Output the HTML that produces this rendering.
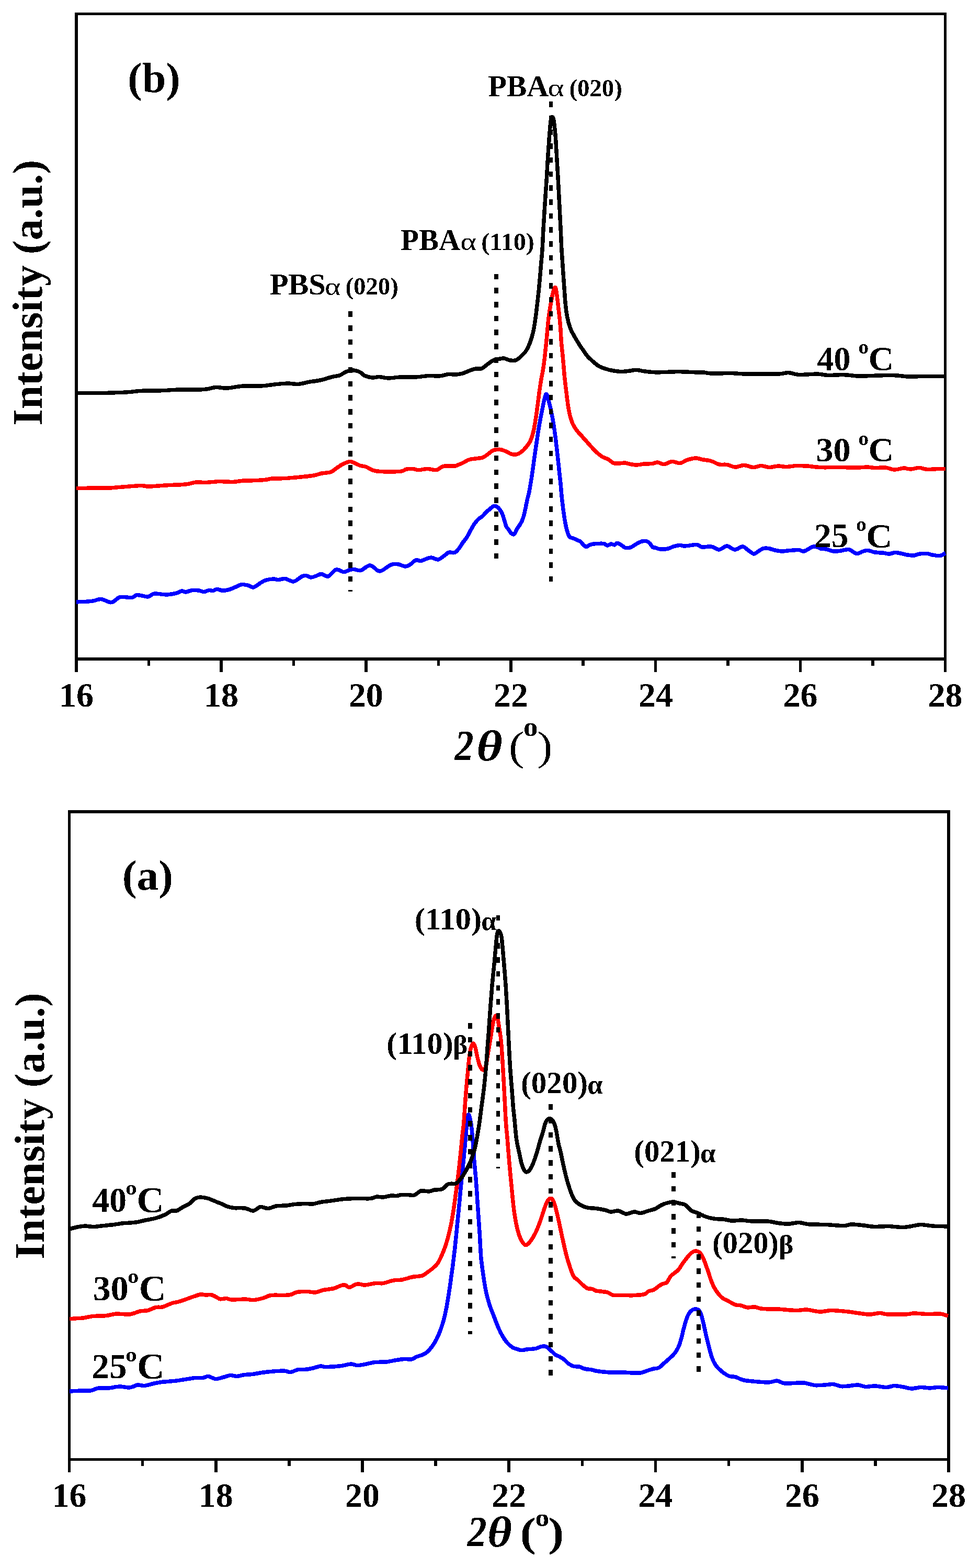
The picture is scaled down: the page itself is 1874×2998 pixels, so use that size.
<!DOCTYPE html>
<html lang="en"><head><meta charset="utf-8"><title>XRD patterns</title>
<style>html,body{margin:0;padding:0;background:#fff}body{width:1874px;height:2998px;overflow:hidden}svg{display:block}text{font-family:'Liberation Serif', 'DejaVu Serif', serif;font-weight:bold;fill:#000}.r{font-weight:normal}.i{font-style:italic}</style></head><body>
<svg width="1874" height="2998" viewBox="0 0 1874 2998">
<defs><filter id="bin" filterUnits="userSpaceOnUse" x="0" y="0" width="1874" height="2998" color-interpolation-filters="sRGB"><feComponentTransfer><feFuncR type="discrete" tableValues="0 1"/><feFuncG type="discrete" tableValues="0 1"/><feFuncB type="discrete" tableValues="0 1"/></feComponentTransfer></filter></defs>
<g filter="url(#bin)">
<rect width="1874" height="2998" fill="#fff"/>
<g id="plot-b">
<g stroke="#000" stroke-linecap="butt">
<line x1="146" y1="24.0" x2="146" y2="1285" stroke-width="6"/>
<line x1="1807.5" y1="24.0" x2="1807.5" y2="1285" stroke-width="5"/>
<line x1="143.0" y1="26.5" x2="1810.0" y2="26.5" stroke-width="5"/>
<line x1="143.0" y1="1260" x2="1810.0" y2="1260" stroke-width="6"/>
<line x1="284.5" y1="1260" x2="284.5" y2="1273" stroke-width="5.5"/>
<line x1="422.9" y1="1260" x2="422.9" y2="1285" stroke-width="5.5"/>
<line x1="561.4" y1="1260" x2="561.4" y2="1273" stroke-width="5.5"/>
<line x1="699.8" y1="1260" x2="699.8" y2="1285" stroke-width="5.5"/>
<line x1="838.3" y1="1260" x2="838.3" y2="1273" stroke-width="5.5"/>
<line x1="976.8" y1="1260" x2="976.8" y2="1285" stroke-width="5.5"/>
<line x1="1115.2" y1="1260" x2="1115.2" y2="1273" stroke-width="5.5"/>
<line x1="1253.7" y1="1260" x2="1253.7" y2="1285" stroke-width="5.5"/>
<line x1="1392.1" y1="1260" x2="1392.1" y2="1273" stroke-width="5.5"/>
<line x1="1530.6" y1="1260" x2="1530.6" y2="1285" stroke-width="5.5"/>
<line x1="1669.0" y1="1260" x2="1669.0" y2="1273" stroke-width="5.5"/>
</g>
<g font-size="66" text-anchor="middle">
<text x="146.0" y="1351.3">16</text>
<text x="422.9" y="1351.3">18</text>
<text x="699.8" y="1351.3">20</text>
<text x="976.8" y="1351.3">22</text>
<text x="1253.7" y="1351.3">24</text>
<text x="1530.6" y="1351.3">26</text>
<text x="1807.5" y="1351.3">28</text>
</g>
<path d="M146.0 751.5C153.3 751.5 174.3 751.8 190.0 751.5C205.7 751.2 225.8 750.8 240.0 750.0C254.2 749.2 264.2 747.5 275.0 747.0C285.8 746.5 294.2 747.3 305.0 747.0C315.8 746.7 325.8 745.4 340.0 745.0C354.2 744.6 377.9 745.2 390.0 744.5C402.1 743.8 405.0 740.9 412.5 740.5C420.0 740.1 426.2 742.4 435.0 742.0C443.8 741.6 454.2 738.7 465.0 738.0C475.8 737.3 490.0 738.5 500.0 738.0C510.0 737.5 516.7 735.8 525.0 735.0C533.3 734.2 542.5 733.1 550.0 733.0C557.5 732.9 563.3 734.9 570.0 734.5C576.7 734.1 582.5 731.8 590.0 730.5C597.5 729.2 607.5 728.2 615.0 726.5C622.5 724.8 629.2 722.0 635.0 720.5C640.8 719.0 645.8 719.0 650.0 717.5C654.2 716.0 656.7 713.0 660.0 711.5C663.3 710.0 666.7 709.0 670.0 708.5C673.3 708.0 676.7 707.8 680.0 708.5C683.3 709.2 687.1 710.8 690.0 712.5C692.9 714.2 693.8 716.9 697.5 718.5C701.2 720.1 707.9 721.7 712.5 722.0C717.1 722.3 720.0 720.3 725.0 720.5C730.0 720.7 735.8 722.9 742.5 723.0C749.2 723.1 756.2 721.3 765.0 721.0C773.8 720.7 785.8 721.4 795.0 721.0C804.2 720.6 812.5 718.8 820.0 718.5C827.5 718.2 833.8 719.5 840.0 719.0C846.2 718.5 852.5 716.0 857.5 715.5C862.5 715.0 865.4 716.5 870.0 716.2C874.6 716.0 880.4 715.0 885.0 713.8C889.6 712.5 893.3 710.2 897.5 708.8C901.7 707.3 906.0 705.7 910.0 705.0C914.0 704.3 917.5 706.0 921.2 704.5C925.0 703.0 928.5 699.0 932.5 696.2C936.5 693.5 941.2 689.7 945.0 688.0C948.8 686.3 951.9 686.8 955.0 686.2C958.1 685.8 960.4 684.6 963.8 685.0C967.1 685.4 971.2 688.1 975.0 688.8C978.8 689.4 982.9 689.8 986.2 688.8C989.6 687.7 991.6 685.6 995.0 682.5C998.4 679.4 1003.4 674.6 1006.5 670.0C1009.6 665.4 1011.3 660.8 1013.5 655.0C1015.7 649.2 1017.8 642.5 1019.5 635.0C1021.2 627.5 1022.4 619.2 1023.8 610.0C1025.1 600.8 1026.2 590.8 1027.5 580.0C1028.8 569.2 1030.1 556.7 1031.2 545.0C1032.4 533.3 1033.3 521.2 1034.2 510.0C1035.2 498.8 1036.2 489.2 1037.0 477.5C1037.8 465.8 1038.1 454.6 1038.9 440.0C1039.7 425.4 1040.9 407.1 1042.0 390.0C1043.1 372.9 1044.8 350.4 1045.6 337.5C1046.4 324.6 1046.4 320.8 1046.9 312.5C1047.4 304.2 1048.0 295.8 1048.6 287.5C1049.2 279.2 1049.7 270.4 1050.3 262.5C1050.9 254.6 1051.7 245.8 1052.2 240.0C1052.8 234.2 1053.1 230.7 1053.6 228.0C1054.1 225.3 1054.6 224.5 1055.2 223.9C1055.8 223.3 1056.6 223.5 1057.2 224.3C1057.8 225.2 1058.2 226.4 1058.7 229.0C1059.2 231.6 1059.6 234.4 1060.2 240.0C1060.8 245.6 1061.8 254.6 1062.4 262.5C1063.0 270.4 1063.4 279.2 1063.9 287.5C1064.4 295.8 1064.9 304.2 1065.4 312.5C1065.9 320.8 1066.2 324.6 1066.9 337.5C1067.6 350.4 1068.8 372.9 1069.7 390.0C1070.6 407.1 1071.5 425.4 1072.2 440.0C1072.9 454.6 1073.5 469.2 1073.9 477.5C1074.3 485.8 1074.4 483.8 1074.8 490.0C1075.2 496.2 1075.8 505.0 1076.5 515.0C1077.2 525.0 1078.2 539.2 1079.0 550.0C1079.8 560.8 1080.3 570.8 1081.2 580.0C1082.1 589.2 1083.0 597.1 1084.5 605.0C1086.0 612.9 1088.2 621.2 1090.5 627.5C1092.8 633.8 1095.2 637.5 1098.0 642.5C1100.8 647.5 1104.1 652.9 1107.0 657.5C1109.9 662.1 1112.9 666.2 1115.5 670.0C1118.1 673.8 1119.7 676.7 1122.5 680.0C1125.3 683.3 1128.8 686.7 1132.5 690.0C1136.2 693.3 1140.8 697.5 1145.0 700.0C1149.2 702.5 1152.9 703.5 1157.5 705.0C1162.1 706.5 1167.5 707.8 1172.5 708.8C1177.5 709.7 1182.5 710.4 1187.5 710.5C1192.5 710.6 1197.7 709.8 1202.5 709.2C1207.3 708.7 1211.7 707.2 1216.2 707.2C1220.8 707.2 1224.7 708.8 1230.0 709.5C1235.3 710.2 1241.3 711.2 1248.0 711.5C1254.7 711.8 1261.8 711.7 1270.0 711.5C1278.2 711.3 1289.2 710.5 1297.5 710.5C1305.8 710.5 1312.1 711.2 1320.0 711.5C1327.9 711.8 1338.3 711.6 1345.0 712.0C1351.7 712.4 1351.2 713.8 1360.0 714.0C1368.8 714.2 1386.7 713.3 1398.0 713.5C1409.3 713.7 1413.0 714.8 1428.0 715.0C1443.0 715.2 1474.7 715.4 1488.0 715.0C1501.3 714.6 1501.3 712.2 1508.0 712.5C1514.7 712.8 1518.8 716.1 1528.0 716.5C1537.2 716.9 1553.8 714.8 1563.0 715.0C1572.2 715.2 1574.7 717.2 1583.0 717.5C1591.3 717.8 1603.0 716.2 1613.0 716.5C1623.0 716.8 1632.2 718.8 1643.0 719.0C1653.8 719.2 1667.2 718.2 1678.0 718.0C1688.8 717.8 1698.0 717.2 1708.0 717.5C1718.0 717.8 1728.0 719.7 1738.0 720.0C1748.0 720.3 1756.3 719.6 1768.0 719.5C1779.7 719.4 1801.3 719.5 1808.0 719.5" fill="none" stroke="#000" stroke-width="7.5" stroke-linejoin="round"/>
<path d="M146.0 933.5C151.7 933.4 169.3 933.1 180.0 933.0C190.7 932.9 200.0 933.4 210.0 933.0C220.0 932.6 230.0 931.2 240.0 930.5C250.0 929.8 262.5 928.6 270.0 928.5C277.5 928.4 277.5 930.1 285.0 930.0C292.5 929.9 303.3 928.7 315.0 928.0C326.7 927.3 345.0 927.0 355.0 926.0C365.0 925.0 368.3 922.6 375.0 922.0C381.7 921.4 387.5 922.8 395.0 922.5C402.5 922.2 411.7 920.7 420.0 920.5C428.3 920.3 437.5 921.8 445.0 921.5C452.5 921.2 457.5 919.5 465.0 919.0C472.5 918.5 482.5 918.8 490.0 918.5C497.5 918.2 505.0 917.6 510.0 917.0C515.0 916.4 514.2 915.4 520.0 915.0C525.8 914.6 535.8 915.0 545.0 914.5C554.2 914.0 565.8 912.9 575.0 912.0C584.2 911.1 593.3 910.2 600.0 909.0C606.7 907.8 609.6 906.1 615.0 905.0C620.4 903.9 627.5 904.3 632.5 902.5C637.5 900.7 640.8 896.7 645.0 894.0C649.2 891.3 653.3 888.4 657.5 886.5C661.7 884.6 665.8 882.3 670.0 882.5C674.2 882.7 679.2 886.2 682.5 887.5C685.8 888.8 687.1 889.7 690.0 890.5C692.9 891.3 696.2 891.1 700.0 892.5C703.8 893.9 707.9 897.5 712.5 899.0C717.1 900.5 718.8 901.1 727.5 901.5C736.2 901.9 756.7 902.2 765.0 901.5C773.3 900.8 773.3 897.8 777.5 897.0C781.7 896.2 786.2 896.2 790.0 896.5C793.8 896.8 795.4 898.5 800.0 898.5C804.6 898.5 811.7 896.5 817.5 896.5C823.3 896.5 830.0 899.3 835.0 898.5C840.0 897.7 842.1 892.8 847.5 891.5C852.9 890.2 863.8 891.0 867.5 891.0C871.2 891.0 867.5 892.0 870.0 891.2C872.5 890.5 877.9 888.3 882.5 886.2C887.1 884.2 892.9 880.3 897.5 878.8C902.1 877.2 905.8 877.4 910.0 876.8C914.2 876.1 918.8 876.3 922.5 875.0C926.2 873.7 929.2 871.0 932.5 868.8C935.8 866.5 938.8 862.8 942.5 861.2C946.2 859.7 950.8 859.0 955.0 859.2C959.2 859.5 963.8 861.5 967.5 863.0C971.2 864.5 974.4 867.0 977.5 868.0C980.6 869.0 983.3 869.7 986.2 869.2C989.2 868.8 991.9 867.7 995.0 865.5C998.1 863.3 1001.9 859.9 1005.0 856.2C1008.1 852.6 1011.2 849.0 1013.8 843.8C1016.2 838.5 1018.2 832.3 1020.0 825.0C1021.8 817.7 1023.2 808.3 1024.5 800.0C1025.8 791.7 1026.9 783.3 1028.0 775.0C1029.1 766.7 1030.1 758.3 1031.2 750.0C1032.4 741.7 1033.6 733.3 1035.0 725.0C1036.4 716.7 1038.1 709.5 1039.5 700.0C1040.9 690.5 1042.1 678.0 1043.2 668.0C1044.3 658.0 1045.1 649.7 1046.0 640.0C1046.9 630.3 1047.7 619.2 1048.8 610.0C1049.8 600.8 1051.2 592.5 1052.5 585.0C1053.8 577.5 1055.1 570.5 1056.2 565.0C1057.4 559.5 1058.7 554.5 1059.5 552.0C1060.3 549.5 1060.7 549.8 1061.2 549.8C1061.8 549.8 1062.4 549.5 1063.0 552.0C1063.6 554.5 1064.2 558.7 1065.0 565.0C1065.8 571.3 1067.0 580.8 1068.0 590.0C1069.0 599.2 1070.3 609.2 1071.2 620.0C1072.2 630.8 1072.6 644.2 1073.5 655.0C1074.4 665.8 1075.6 675.5 1076.5 685.0C1077.4 694.5 1078.2 705.3 1078.8 712.0C1079.4 718.7 1079.3 718.7 1080.0 725.0C1080.7 731.3 1082.0 741.7 1083.0 750.0C1084.0 758.3 1085.1 767.5 1086.2 775.0C1087.4 782.5 1088.5 789.2 1090.0 795.0C1091.5 800.8 1092.9 805.4 1095.0 810.0C1097.1 814.6 1099.6 818.5 1102.5 822.5C1105.4 826.5 1109.2 830.0 1112.5 833.8C1115.8 837.5 1119.2 841.2 1122.5 845.0C1125.8 848.8 1129.2 852.7 1132.5 856.2C1135.8 859.8 1139.2 863.3 1142.5 866.2C1145.8 869.2 1149.2 871.8 1152.5 873.8C1155.8 875.7 1159.2 876.1 1162.5 878.0C1165.8 879.9 1169.2 883.6 1172.5 885.0C1175.8 886.4 1178.8 886.2 1182.5 886.2C1186.2 886.2 1190.8 884.7 1195.0 885.0C1199.2 885.3 1203.3 887.4 1207.5 888.0C1211.7 888.6 1215.8 888.9 1220.0 888.8C1224.2 888.6 1227.8 887.4 1232.5 887.0C1237.2 886.6 1243.8 886.8 1248.0 886.2C1252.2 885.8 1253.8 883.8 1257.5 884.0C1261.2 884.2 1265.4 887.8 1270.0 887.5C1274.6 887.2 1280.0 882.8 1285.0 882.5C1290.0 882.2 1295.4 885.9 1300.0 885.5C1304.6 885.1 1308.8 881.4 1312.5 880.0C1316.2 878.6 1319.2 877.7 1322.5 877.0C1325.8 876.3 1328.8 875.7 1332.5 876.0C1336.2 876.3 1340.4 878.1 1345.0 879.0C1349.6 879.9 1354.9 880.0 1360.0 881.5C1365.1 883.0 1370.4 886.8 1375.5 888.0C1380.6 889.2 1385.5 887.7 1390.5 888.5C1395.5 889.3 1400.1 892.8 1405.5 893.0C1410.9 893.2 1417.2 889.4 1423.0 889.5C1428.8 889.6 1435.1 893.3 1440.5 893.5C1445.9 893.7 1450.5 890.5 1455.5 890.5C1460.5 890.5 1465.1 893.4 1470.5 893.5C1475.9 893.6 1482.6 891.2 1488.0 891.0C1493.4 890.8 1497.2 892.6 1503.0 892.5C1508.8 892.4 1516.3 890.8 1523.0 890.5C1529.7 890.2 1535.5 890.5 1543.0 891.0C1550.5 891.5 1557.2 893.1 1568.0 893.5C1578.8 893.9 1596.3 893.4 1608.0 893.5C1619.7 893.6 1629.7 894.1 1638.0 894.0C1646.3 893.9 1652.2 892.9 1658.0 893.0C1663.8 893.1 1667.2 894.3 1673.0 894.5C1678.8 894.7 1686.8 893.4 1693.0 894.0C1699.2 894.6 1704.7 897.8 1710.5 898.0C1716.3 898.2 1723.0 895.2 1728.0 895.0C1733.0 894.8 1735.5 897.1 1740.5 897.0C1745.5 896.9 1752.6 894.4 1758.0 894.5C1763.4 894.6 1767.2 897.2 1773.0 897.5C1778.8 897.8 1787.2 896.7 1793.0 896.5C1798.8 896.3 1805.5 896.5 1808.0 896.5" fill="none" stroke="#f00" stroke-width="7.5" stroke-linejoin="round"/>
<path d="M146.0 1151.0C150.8 1150.8 167.2 1150.4 175.0 1149.5C182.8 1148.6 186.7 1145.2 192.5 1145.5C198.3 1145.8 205.8 1150.8 210.0 1151.5C214.2 1152.2 214.2 1151.7 217.5 1150.0C220.8 1148.3 224.2 1142.8 230.0 1141.5C235.8 1140.2 247.1 1143.2 252.5 1142.5C257.9 1141.8 257.5 1137.8 262.5 1137.5C267.5 1137.2 277.1 1141.4 282.5 1141.0C287.9 1140.6 289.2 1135.7 295.0 1135.0C300.8 1134.3 310.4 1137.2 317.5 1137.0C324.6 1136.8 332.5 1135.2 337.5 1134.0C342.5 1132.8 344.6 1130.3 347.5 1130.0C350.4 1129.7 351.7 1132.2 355.0 1132.0C358.3 1131.8 363.3 1129.0 367.5 1128.5C371.7 1128.0 376.2 1128.5 380.0 1129.0C383.8 1129.5 386.7 1131.6 390.0 1131.5C393.3 1131.4 397.1 1128.8 400.0 1128.5C402.9 1128.2 405.0 1129.8 407.5 1129.5C410.0 1129.2 412.1 1126.6 415.0 1126.5C417.9 1126.4 421.2 1128.8 425.0 1129.0C428.8 1129.2 433.3 1128.6 437.5 1127.5C441.7 1126.4 445.8 1124.2 450.0 1122.5C454.2 1120.8 458.3 1118.0 462.5 1117.5C466.7 1117.0 471.2 1118.6 475.0 1119.5C478.8 1120.4 481.2 1123.8 485.0 1123.0C488.8 1122.2 493.8 1117.2 497.5 1115.0C501.2 1112.8 503.3 1110.8 507.5 1109.5C511.7 1108.2 518.3 1107.2 522.5 1107.0C526.7 1106.8 528.8 1108.6 532.5 1108.5C536.2 1108.4 540.4 1105.9 545.0 1106.5C549.6 1107.1 556.2 1111.6 560.0 1112.0C563.8 1112.4 564.6 1110.7 567.5 1109.0C570.4 1107.3 574.6 1103.4 577.5 1102.0C580.4 1100.6 582.1 1100.2 585.0 1100.5C587.9 1100.8 591.7 1103.9 595.0 1104.0C598.3 1104.1 601.7 1102.1 605.0 1101.0C608.3 1099.9 611.2 1097.3 615.0 1097.5C618.8 1097.7 622.9 1103.4 627.5 1102.0C632.1 1100.6 637.5 1090.4 642.5 1089.0C647.5 1087.6 652.9 1093.5 657.5 1093.5C662.1 1093.5 666.7 1089.8 670.0 1089.0C673.3 1088.2 674.2 1088.2 677.5 1088.5C680.8 1088.8 685.0 1091.8 690.0 1090.5C695.0 1089.2 702.1 1080.9 707.5 1081.0C712.9 1081.1 718.8 1089.3 722.5 1091.0C726.2 1092.7 725.8 1092.8 730.0 1091.0C734.2 1089.2 742.5 1082.1 747.5 1080.0C752.5 1077.9 755.4 1078.0 760.0 1078.5C764.6 1079.0 770.8 1082.9 775.0 1083.0C779.2 1083.1 781.7 1081.0 785.0 1079.0C788.3 1077.0 791.7 1072.1 795.0 1071.0C798.3 1069.9 801.7 1072.9 805.0 1072.5C808.3 1072.1 811.7 1069.6 815.0 1068.5C818.3 1067.4 821.2 1065.8 825.0 1066.0C828.8 1066.2 833.8 1070.3 837.5 1070.0C841.2 1069.7 844.2 1066.2 847.5 1064.0C850.8 1061.8 854.8 1057.8 857.5 1056.5C860.2 1055.2 861.9 1056.5 864.0 1056.5C866.1 1056.5 867.8 1057.5 870.0 1056.2C872.2 1055.0 875.0 1051.9 877.5 1048.8C880.0 1045.6 882.5 1041.0 885.0 1037.5C887.5 1034.0 890.0 1031.5 892.5 1027.5C895.0 1023.5 897.5 1018.1 900.0 1013.8C902.5 1009.4 905.0 1004.8 907.5 1001.2C910.0 997.7 912.5 994.9 915.0 992.5C917.5 990.1 920.0 989.3 922.5 987.0C925.0 984.7 927.7 981.0 930.0 978.8C932.3 976.5 934.2 975.5 936.2 973.8C938.3 972.0 940.8 969.6 942.5 968.5C944.2 967.4 944.8 967.1 946.2 967.3C947.7 967.5 949.6 968.2 951.2 969.5C952.9 970.8 954.7 972.8 956.2 975.0C957.8 977.2 959.1 979.2 960.5 982.5C961.9 985.8 963.2 991.0 964.5 995.0C965.8 999.0 966.7 1003.3 968.0 1006.2C969.3 1009.2 970.9 1010.3 972.5 1012.5C974.1 1014.7 976.0 1017.9 977.5 1019.5C979.0 1021.1 980.5 1022.1 981.8 1022.0C983.0 1021.9 983.8 1020.5 985.0 1018.8C986.2 1017.0 987.3 1013.8 988.8 1011.2C990.2 1008.8 992.2 1006.2 993.8 1003.8C995.3 1001.2 996.8 999.0 998.0 996.2C999.2 993.5 1000.2 991.0 1001.2 987.5C1002.3 984.0 1003.4 978.8 1004.2 975.0C1005.1 971.2 1005.4 969.2 1006.2 965.0C1007.1 960.8 1008.5 954.2 1009.5 950.0C1010.5 945.8 1010.8 946.7 1012.0 940.0C1013.2 933.3 1015.5 920.0 1017.0 910.0C1018.5 900.0 1019.8 890.0 1021.2 880.0C1022.7 870.0 1024.0 860.0 1025.5 850.0C1027.0 840.0 1028.4 829.6 1030.0 820.0C1031.6 810.4 1033.3 801.2 1035.0 792.5C1036.7 783.8 1038.7 773.6 1040.0 767.5C1041.3 761.4 1042.2 758.4 1043.0 756.0C1043.8 753.6 1044.0 753.2 1044.5 753.2C1045.0 753.2 1045.6 754.0 1046.3 756.0C1047.0 758.0 1047.5 760.2 1048.8 765.0C1050.0 769.8 1052.2 777.9 1053.8 785.0C1055.3 792.1 1056.6 799.2 1058.0 807.5C1059.4 815.8 1060.8 825.4 1062.0 835.0C1063.2 844.6 1064.4 855.0 1065.5 865.0C1066.6 875.0 1067.7 885.0 1068.8 895.0C1069.8 905.0 1071.2 917.0 1072.0 925.0C1072.8 933.0 1073.0 937.6 1073.5 943.0C1074.0 948.4 1074.3 951.8 1075.0 957.5C1075.7 963.2 1076.6 970.8 1077.5 977.5C1078.4 984.2 1079.3 991.2 1080.5 997.5C1081.7 1003.8 1083.1 1010.2 1084.5 1015.0C1085.9 1019.8 1087.0 1024.0 1088.8 1026.2C1090.5 1028.5 1092.7 1027.8 1095.0 1028.8C1097.3 1029.7 1100.0 1030.9 1102.5 1032.0C1105.0 1033.1 1107.7 1033.8 1110.0 1035.5C1112.3 1037.2 1114.4 1040.8 1116.2 1042.5C1118.1 1044.2 1119.4 1045.6 1121.2 1045.5C1123.1 1045.4 1125.2 1042.9 1127.5 1042.0C1129.8 1041.1 1132.1 1040.4 1135.0 1040.0C1137.9 1039.6 1141.7 1039.6 1145.0 1039.5C1148.3 1039.4 1152.3 1038.9 1155.0 1039.5C1157.7 1040.1 1159.0 1042.9 1161.2 1043.0C1163.5 1043.1 1166.5 1040.2 1168.8 1040.0C1171.0 1039.8 1173.0 1042.3 1175.0 1042.0C1177.0 1041.7 1178.2 1038.2 1180.5 1038.2C1182.8 1038.3 1186.3 1041.0 1188.8 1042.5C1191.2 1044.0 1192.3 1046.2 1195.0 1047.0C1197.7 1047.8 1201.9 1047.8 1205.0 1047.0C1208.1 1046.2 1210.8 1043.7 1213.8 1042.0C1216.7 1040.3 1219.8 1038.2 1222.5 1037.0C1225.2 1035.8 1227.7 1034.9 1230.0 1034.5C1232.3 1034.1 1234.2 1033.8 1236.2 1034.5C1238.3 1035.2 1240.5 1036.8 1242.5 1038.8C1244.5 1040.7 1246.3 1044.9 1248.0 1046.2C1249.7 1047.6 1250.1 1046.4 1252.5 1047.0C1254.9 1047.6 1258.3 1049.7 1262.5 1050.0C1266.7 1050.3 1273.3 1049.8 1277.5 1049.0C1281.7 1048.2 1283.8 1046.1 1287.5 1045.0C1291.2 1043.9 1296.2 1042.7 1300.0 1042.5C1303.8 1042.3 1304.6 1044.2 1310.0 1044.0C1315.4 1043.8 1327.1 1041.2 1332.5 1041.5C1337.9 1041.8 1337.9 1045.4 1342.5 1046.0C1347.1 1046.6 1354.6 1044.2 1360.0 1045.0C1365.4 1045.8 1370.0 1051.2 1375.0 1051.0C1380.0 1050.8 1385.0 1044.0 1390.0 1044.0C1395.0 1044.0 1400.0 1050.8 1405.0 1051.0C1410.0 1051.2 1415.8 1044.9 1420.0 1045.0C1424.2 1045.1 1426.4 1049.2 1430.0 1051.5C1433.6 1053.8 1438.2 1058.6 1441.5 1059.0C1444.8 1059.4 1446.9 1055.8 1450.0 1054.0C1453.1 1052.2 1456.7 1049.4 1460.0 1048.5C1463.3 1047.6 1466.7 1048.0 1470.0 1048.5C1473.3 1049.0 1475.8 1050.6 1480.0 1051.5C1484.2 1052.4 1490.0 1053.8 1495.0 1054.0C1500.0 1054.2 1504.6 1052.9 1510.0 1052.5C1515.4 1052.1 1522.9 1051.2 1527.5 1051.5C1532.1 1051.8 1533.3 1054.9 1537.5 1054.0C1541.7 1053.1 1548.8 1047.5 1552.5 1046.0C1556.2 1044.5 1557.1 1044.5 1560.0 1045.0C1562.9 1045.5 1566.7 1048.2 1570.0 1049.0C1573.3 1049.8 1576.2 1049.2 1580.0 1050.0C1583.8 1050.8 1588.8 1053.4 1593.0 1054.0C1597.2 1054.6 1600.5 1054.1 1605.5 1053.5C1610.5 1052.9 1617.6 1049.7 1623.0 1050.5C1628.4 1051.3 1633.4 1057.9 1638.0 1058.5C1642.6 1059.1 1646.8 1055.0 1650.5 1054.0C1654.2 1053.0 1656.8 1052.2 1660.5 1052.5C1664.2 1052.8 1668.4 1055.2 1673.0 1056.0C1677.6 1056.8 1683.4 1056.5 1688.0 1057.0C1692.6 1057.5 1696.3 1059.1 1700.5 1059.0C1704.7 1058.9 1707.2 1056.2 1713.0 1056.5C1718.8 1056.8 1729.7 1060.1 1735.5 1061.0C1741.3 1061.9 1744.2 1062.3 1748.0 1062.0C1751.8 1061.7 1753.8 1059.6 1758.0 1059.0C1762.2 1058.4 1768.8 1058.2 1773.0 1058.5C1777.2 1058.8 1778.8 1060.3 1783.0 1061.0C1787.2 1061.7 1793.8 1063.1 1798.0 1062.5C1802.2 1061.9 1806.3 1058.3 1808.0 1057.5" fill="none" stroke="#00f" stroke-width="7.5" stroke-linejoin="round"/>
<line x1="670" y1="595.6" x2="670" y2="1131" stroke="#000" stroke-width="8" stroke-dasharray="10.3 16.349999999999998"/>
<line x1="949" y1="523.75" x2="949" y2="1068" stroke="#000" stroke-width="8" stroke-dasharray="10.3 16.41"/>
<line x1="1053.5" y1="194.25" x2="1053.5" y2="1112" stroke="#000" stroke-width="7" stroke-dasharray="10.3 16.4"/>
<text><tspan x="244.3" y="176.3" font-size="80" textLength="100.4" lengthAdjust="spacingAndGlyphs">(b)</tspan></text>
<text transform="translate(80.4 813.8) rotate(-90)" font-size="81" textLength="508.1" lengthAdjust="spacingAndGlyphs">Intensity (a.u.)</text>
<text><tspan x="869.5" y="1453.0" font-size="83" class="i" textLength="36.1" lengthAdjust="spacingAndGlyphs">2</tspan><tspan x="911.2" y="1454.3" font-size="83" class="i" textLength="49.4" lengthAdjust="spacingAndGlyphs">θ</tspan><tspan> </tspan><tspan x="973.0" y="1453.2" font-size="78.3" class="r" textLength="29.4" lengthAdjust="spacingAndGlyphs">(</tspan><tspan x="1001.1" y="1406.5" font-size="53.6" textLength="27.4" lengthAdjust="spacingAndGlyphs">o</tspan><tspan x="1027.4" y="1453.2" font-size="78.3" class="r" textLength="28.8" lengthAdjust="spacingAndGlyphs">)</tspan></text>
<text><tspan x="933.4" y="183.8" font-size="57" textLength="115.7" lengthAdjust="spacingAndGlyphs">PBA</tspan><tspan x="1047.6" y="184.4" font-size="48" class="r" textLength="31.3" lengthAdjust="spacingAndGlyphs">α</tspan><tspan> </tspan><tspan x="1088.4" y="183.8" font-size="47" textLength="101.5" lengthAdjust="spacingAndGlyphs">(020)</tspan></text>
<text><tspan x="766.1" y="477.5" font-size="57">PBA</tspan><tspan x="880.2" y="478.1" font-size="48" class="r" textLength="30.8" lengthAdjust="spacingAndGlyphs">α</tspan><tspan> </tspan><tspan x="920.3" y="477.5" font-size="47" textLength="101.6" lengthAdjust="spacingAndGlyphs">(110)</tspan></text>
<text><tspan x="516.1" y="563.0" font-size="57" textLength="106.6" lengthAdjust="spacingAndGlyphs">PBS</tspan><tspan x="620.9" y="563.6" font-size="48" class="r" textLength="30.5" lengthAdjust="spacingAndGlyphs">α</tspan><tspan> </tspan><tspan x="660.4" y="563.0" font-size="47" textLength="101.5" lengthAdjust="spacingAndGlyphs">(020)</tspan></text>
<text><tspan x="1562.5" y="707.5" font-size="65" textLength="64.0" lengthAdjust="spacingAndGlyphs">40</tspan><tspan> </tspan><tspan x="1641.4" y="675.9" font-size="38" textLength="19.6" lengthAdjust="spacingAndGlyphs">o</tspan><tspan x="1660.6" y="708.1" font-size="66" textLength="48.6" lengthAdjust="spacingAndGlyphs">C</tspan></text>
<text><tspan x="1560.3" y="882.0" font-size="65" textLength="66.3" lengthAdjust="spacingAndGlyphs">30</tspan><tspan> </tspan><tspan x="1641.4" y="850.9" font-size="38" textLength="19.6" lengthAdjust="spacingAndGlyphs">o</tspan><tspan x="1660.6" y="882.4" font-size="66" textLength="48.6" lengthAdjust="spacingAndGlyphs">C</tspan></text>
<text><tspan x="1557.1" y="1045.5" font-size="65" textLength="65.4" lengthAdjust="spacingAndGlyphs">25</tspan><tspan> </tspan><tspan x="1636.9" y="1015.1" font-size="38" textLength="19.9" lengthAdjust="spacingAndGlyphs">o</tspan><tspan x="1656.3" y="1046.9" font-size="66" textLength="50.1" lengthAdjust="spacingAndGlyphs">C</tspan></text>
</g>
<g id="plot-a">
<g stroke="#000" stroke-linecap="butt">
<line x1="132.5" y1="1549.0" x2="132.5" y2="2815.0" stroke-width="5"/>
<line x1="1814" y1="1549.0" x2="1814" y2="2815.0" stroke-width="6"/>
<line x1="130.0" y1="1552" x2="1817.0" y2="1552" stroke-width="6"/>
<line x1="130.0" y1="2790.5" x2="1817.0" y2="2790.5" stroke-width="5"/>
<line x1="272.6" y1="2790.5" x2="272.6" y2="2803.0" stroke-width="5.5"/>
<line x1="412.8" y1="2790.5" x2="412.8" y2="2815.0" stroke-width="5.5"/>
<line x1="552.9" y1="2790.5" x2="552.9" y2="2803.0" stroke-width="5.5"/>
<line x1="693.0" y1="2790.5" x2="693.0" y2="2815.0" stroke-width="5.5"/>
<line x1="833.1" y1="2790.5" x2="833.1" y2="2803.0" stroke-width="5.5"/>
<line x1="973.2" y1="2790.5" x2="973.2" y2="2815.0" stroke-width="5.5"/>
<line x1="1113.4" y1="2790.5" x2="1113.4" y2="2803.0" stroke-width="5.5"/>
<line x1="1253.5" y1="2790.5" x2="1253.5" y2="2815.0" stroke-width="5.5"/>
<line x1="1393.6" y1="2790.5" x2="1393.6" y2="2803.0" stroke-width="5.5"/>
<line x1="1533.8" y1="2790.5" x2="1533.8" y2="2815.0" stroke-width="5.5"/>
<line x1="1673.9" y1="2790.5" x2="1673.9" y2="2803.0" stroke-width="5.5"/>
</g>
<g font-size="66" text-anchor="middle">
<text x="132.5" y="2881.2">16</text>
<text x="412.8" y="2881.2">18</text>
<text x="693.0" y="2881.2">20</text>
<text x="973.2" y="2881.2">22</text>
<text x="1253.5" y="2881.2">24</text>
<text x="1533.8" y="2881.2">26</text>
<text x="1814.0" y="2881.2">28</text>
</g>
<path d="M133.0 2660.0C136.3 2659.8 146.3 2659.2 153.0 2659.0C159.7 2658.8 167.2 2659.8 173.0 2659.0C178.8 2658.2 182.2 2654.8 188.0 2654.0C193.8 2653.2 201.3 2654.5 208.0 2654.0C214.7 2653.5 221.3 2651.2 228.0 2651.0C234.7 2650.8 242.2 2653.5 248.0 2653.0C253.8 2652.5 258.4 2648.6 263.0 2648.0C267.6 2647.4 270.5 2649.9 275.5 2649.5C280.5 2649.1 286.8 2646.8 293.0 2645.5C299.2 2644.2 306.3 2642.8 313.0 2642.0C319.7 2641.2 326.3 2641.2 333.0 2640.5C339.7 2639.8 346.3 2638.5 353.0 2637.5C359.7 2636.5 367.2 2635.0 373.0 2634.5C378.8 2634.0 383.8 2635.0 388.0 2634.5C392.2 2634.0 393.8 2631.2 398.0 2631.5C402.2 2631.8 408.0 2636.2 413.0 2636.5C418.0 2636.8 423.4 2634.2 428.0 2633.0C432.6 2631.8 436.3 2629.8 440.5 2629.5C444.7 2629.2 448.4 2631.7 453.0 2631.5C457.6 2631.3 463.0 2629.2 468.0 2628.5C473.0 2627.8 477.2 2628.2 483.0 2627.5C488.8 2626.8 496.3 2624.9 503.0 2624.0C509.7 2623.1 516.3 2622.5 523.0 2622.0C529.7 2621.5 537.6 2620.8 543.0 2621.0C548.4 2621.2 550.9 2623.9 555.5 2623.5C560.1 2623.1 565.9 2619.3 570.5 2618.5C575.1 2617.7 578.4 2618.9 583.0 2618.5C587.6 2618.1 593.0 2617.1 598.0 2616.0C603.0 2614.9 608.8 2612.4 613.0 2612.0C617.2 2611.6 616.3 2613.6 623.0 2613.5C629.7 2613.4 645.1 2612.4 653.0 2611.5C660.9 2610.6 665.5 2608.2 670.5 2608.0C675.5 2607.8 678.4 2610.4 683.0 2610.5C687.6 2610.6 692.2 2609.5 698.0 2608.5C703.8 2607.5 711.3 2605.2 718.0 2604.5C724.7 2603.8 731.3 2604.7 738.0 2604.0C744.7 2603.3 752.2 2601.4 758.0 2600.5C763.8 2599.6 769.3 2598.8 773.0 2598.5C776.7 2598.2 777.6 2598.7 780.0 2598.8C782.4 2598.8 784.6 2599.6 787.5 2598.8C790.4 2597.9 794.2 2595.1 797.5 2593.8C800.8 2592.4 804.2 2592.0 807.5 2590.5C810.8 2589.0 814.2 2587.5 817.5 2584.5C820.8 2581.5 824.6 2576.6 827.5 2572.5C830.4 2568.4 832.5 2565.0 835.0 2560.0C837.5 2555.0 840.2 2548.8 842.5 2542.5C844.8 2536.2 846.9 2529.6 848.8 2522.5C850.6 2515.4 852.2 2507.9 853.8 2500.0C855.3 2492.1 856.6 2483.8 858.0 2475.0C859.4 2466.2 860.8 2456.2 862.0 2447.5C863.2 2438.8 864.5 2430.4 865.5 2422.5C866.5 2414.6 867.5 2406.2 868.2 2400.0C869.0 2393.8 869.1 2393.8 870.0 2385.0C870.9 2376.2 872.5 2360.0 873.8 2347.5C875.0 2335.0 876.2 2322.9 877.5 2310.0C878.8 2297.1 879.9 2283.8 881.2 2270.0C882.6 2256.2 884.1 2241.7 885.5 2227.5C886.9 2213.3 888.4 2197.9 889.6 2185.0C890.8 2172.1 891.8 2158.3 892.6 2150.0C893.4 2141.7 894.0 2138.2 894.6 2135.0C895.2 2131.8 895.5 2131.0 896.0 2131.0C896.5 2131.0 897.0 2131.8 897.8 2135.0C898.6 2138.2 900.0 2142.9 901.0 2150.0C902.0 2157.1 902.9 2166.7 903.8 2177.5C904.7 2188.3 905.4 2201.2 906.5 2215.0C907.6 2228.8 909.3 2244.2 910.5 2260.0C911.7 2275.8 912.7 2294.2 913.8 2310.0C914.8 2325.8 916.0 2340.0 917.0 2355.0C918.0 2370.0 918.7 2388.8 919.5 2400.0C920.3 2411.2 921.0 2414.6 922.0 2422.5C923.0 2430.4 924.2 2439.2 925.5 2447.5C926.8 2455.8 928.2 2464.6 930.0 2472.5C931.8 2480.4 934.0 2487.9 936.2 2495.0C938.5 2502.1 941.0 2507.9 943.8 2515.0C946.5 2522.1 949.6 2530.8 952.5 2537.5C955.4 2544.2 958.3 2550.0 961.2 2555.0C964.2 2560.0 966.9 2564.0 970.0 2567.5C973.1 2571.0 976.9 2574.2 980.0 2576.2C983.1 2578.2 985.8 2578.6 988.8 2579.5C991.7 2580.4 994.4 2581.7 997.5 2581.8C1000.6 2581.8 1004.2 2580.4 1007.5 2580.0C1010.8 2579.6 1014.4 2579.6 1017.5 2579.2C1020.6 2578.9 1023.3 2578.8 1026.2 2578.0C1029.2 2577.2 1032.3 2575.1 1035.0 2574.5C1037.7 2573.9 1040.2 2573.8 1042.5 2574.2C1044.8 2574.8 1046.7 2575.9 1048.8 2577.5C1050.8 2579.1 1052.7 2581.6 1055.0 2583.8C1057.3 2585.9 1060.0 2588.8 1062.5 2590.5C1065.0 2592.2 1067.3 2592.2 1070.0 2593.8C1072.7 2595.2 1075.8 2597.2 1078.8 2599.5C1081.7 2601.8 1084.4 2605.3 1087.5 2607.5C1090.6 2609.7 1094.2 2611.6 1097.5 2612.5C1100.8 2613.4 1104.2 2612.2 1107.5 2613.0C1110.8 2613.8 1113.3 2616.0 1117.5 2617.0C1121.7 2618.0 1128.8 2618.5 1132.5 2619.2C1136.2 2620.0 1136.2 2620.6 1140.0 2621.2C1143.8 2621.9 1150.0 2622.5 1155.0 2623.0C1160.0 2623.5 1164.2 2624.1 1170.0 2624.2C1175.8 2624.4 1182.9 2623.6 1190.0 2623.8C1197.1 2623.9 1206.2 2624.9 1212.5 2625.0C1218.8 2625.1 1222.9 2625.1 1227.5 2624.2C1232.1 2623.4 1236.2 2621.2 1240.0 2620.0C1243.8 2618.8 1246.7 2617.8 1250.0 2617.0C1253.3 2616.2 1256.7 2616.8 1260.0 2615.0C1263.3 2613.2 1266.7 2609.2 1270.0 2606.2C1273.3 2603.3 1276.7 2600.6 1280.0 2597.5C1283.3 2594.4 1287.1 2591.2 1290.0 2587.5C1292.9 2583.8 1295.4 2579.6 1297.5 2575.0C1299.6 2570.4 1300.8 2565.8 1302.5 2560.0C1304.2 2554.2 1305.8 2546.2 1307.5 2540.0C1309.2 2533.8 1310.8 2527.3 1312.5 2522.5C1314.2 2517.7 1315.6 2514.2 1317.5 2511.2C1319.4 2508.2 1321.7 2505.9 1323.8 2504.5C1325.8 2503.1 1327.9 2502.9 1330.0 2503.0C1332.1 2503.1 1334.4 2503.0 1336.2 2505.0C1338.1 2507.0 1339.6 2510.0 1341.2 2515.0C1342.9 2520.0 1344.6 2527.9 1346.2 2535.0C1347.9 2542.1 1349.6 2550.4 1351.2 2557.5C1352.9 2564.6 1354.6 2571.2 1356.2 2577.5C1357.9 2583.8 1359.4 2589.8 1361.2 2595.0C1363.1 2600.2 1365.2 2605.0 1367.5 2608.8C1369.8 2612.5 1372.3 2614.8 1375.0 2617.5C1377.7 2620.2 1380.4 2622.7 1383.8 2625.0C1387.1 2627.3 1391.5 2630.0 1395.0 2631.2C1398.5 2632.5 1401.7 2631.7 1405.0 2632.5C1408.3 2633.3 1411.7 2635.1 1415.0 2636.2C1418.3 2637.4 1419.9 2638.6 1425.0 2639.5C1430.1 2640.4 1437.9 2640.9 1445.5 2641.5C1453.1 2642.1 1463.8 2643.2 1470.5 2643.0C1477.2 2642.8 1480.5 2639.7 1485.5 2640.0C1490.5 2640.3 1493.8 2644.3 1500.5 2645.0C1507.2 2645.7 1519.2 2644.2 1525.5 2644.0C1531.8 2643.8 1532.6 2643.2 1538.0 2644.0C1543.4 2644.8 1551.3 2647.8 1558.0 2648.5C1564.7 2649.2 1572.2 2648.3 1578.0 2648.0C1583.8 2647.7 1588.0 2646.1 1593.0 2646.5C1598.0 2646.9 1603.0 2649.9 1608.0 2650.5C1613.0 2651.1 1617.6 2650.4 1623.0 2650.0C1628.4 2649.6 1635.1 2647.8 1640.5 2648.0C1645.9 2648.2 1650.1 2651.2 1655.5 2651.5C1660.9 2651.8 1666.3 2649.8 1673.0 2650.0C1679.7 2650.2 1689.2 2652.6 1695.5 2652.5C1701.8 2652.4 1705.1 2649.6 1710.5 2649.5C1715.9 2649.4 1722.6 2651.1 1728.0 2652.0C1733.4 2652.9 1737.6 2654.9 1743.0 2655.0C1748.4 2655.1 1754.7 2652.7 1760.5 2652.5C1766.3 2652.3 1772.6 2654.0 1778.0 2654.0C1783.4 2654.0 1787.2 2652.5 1793.0 2652.5C1798.8 2652.5 1809.7 2653.8 1813.0 2654.0" fill="none" stroke="#00f" stroke-width="7.5" stroke-linejoin="round"/>
<path d="M133.0 2521.5C137.2 2521.2 150.5 2520.8 158.0 2520.0C165.5 2519.2 170.5 2517.2 178.0 2516.5C185.5 2515.8 195.5 2516.2 203.0 2515.5C210.5 2514.8 215.5 2512.4 223.0 2512.0C230.5 2511.6 240.5 2513.8 248.0 2513.0C255.5 2512.2 262.2 2508.2 268.0 2507.0C273.8 2505.8 278.0 2506.8 283.0 2505.5C288.0 2504.2 293.4 2500.6 298.0 2499.5C302.6 2498.4 305.5 2500.2 310.5 2499.0C315.5 2497.8 322.6 2493.8 328.0 2492.0C333.4 2490.2 337.2 2490.2 343.0 2488.5C348.8 2486.8 356.3 2483.8 363.0 2481.5C369.7 2479.2 378.0 2475.9 383.0 2475.0C388.0 2474.1 389.2 2475.8 393.0 2476.0C396.8 2476.2 400.9 2474.8 405.5 2476.0C410.1 2477.2 415.9 2482.4 420.5 2483.5C425.1 2484.6 429.2 2482.2 433.0 2482.5C436.8 2482.8 437.2 2484.8 443.0 2485.0C448.8 2485.2 460.9 2483.9 468.0 2484.0C475.1 2484.1 479.7 2485.8 485.5 2485.5C491.3 2485.2 497.6 2483.5 503.0 2482.0C508.4 2480.5 512.2 2477.4 518.0 2476.5C523.8 2475.6 531.8 2476.7 538.0 2476.5C544.2 2476.3 550.5 2476.5 555.5 2475.5C560.5 2474.5 562.6 2471.5 568.0 2470.5C573.4 2469.5 582.2 2469.4 588.0 2469.5C593.8 2469.6 598.0 2471.5 603.0 2471.0C608.0 2470.5 612.2 2467.8 618.0 2466.5C623.8 2465.2 632.2 2465.0 638.0 2463.5C643.8 2462.0 649.2 2458.6 653.0 2457.5C656.8 2456.4 658.0 2456.3 660.5 2457.0C663.0 2457.7 664.2 2461.8 668.0 2461.5C671.8 2461.2 678.0 2455.8 683.0 2455.0C688.0 2454.2 692.2 2457.2 698.0 2457.0C703.8 2456.8 712.2 2454.1 718.0 2453.5C723.8 2452.9 727.6 2454.3 733.0 2453.5C738.4 2452.7 744.7 2449.6 750.5 2448.5C756.3 2447.4 763.1 2447.8 768.0 2447.0C772.9 2446.2 776.3 2444.7 780.0 2443.8C783.7 2442.8 785.4 2442.1 790.0 2441.2C794.6 2440.4 802.9 2440.2 807.5 2438.8C812.1 2437.3 814.2 2434.8 817.5 2432.5C820.8 2430.2 824.4 2427.7 827.5 2425.0C830.6 2422.3 833.8 2419.6 836.2 2416.2C838.8 2412.9 839.8 2411.0 842.5 2405.0C845.2 2399.0 849.6 2388.8 852.5 2380.0C855.4 2371.2 857.7 2362.5 860.0 2352.5C862.3 2342.5 864.4 2331.2 866.2 2320.0C868.1 2308.8 869.5 2298.3 871.2 2285.0C873.0 2271.7 875.4 2253.8 877.0 2240.0C878.6 2226.2 879.8 2214.2 881.0 2202.5C882.2 2190.8 883.2 2179.6 884.2 2170.0C885.2 2160.4 886.0 2157.5 887.0 2145.0C888.0 2132.5 889.2 2111.7 890.5 2095.0C891.8 2078.3 893.8 2057.5 895.0 2045.0C896.2 2032.5 896.5 2027.2 897.5 2020.0C898.5 2012.8 899.8 2006.2 901.0 2002.0C902.2 1997.8 903.7 1994.8 905.0 1995.0C906.3 1995.2 907.8 1998.8 909.0 2003.0C910.2 2007.2 911.1 2014.2 912.5 2020.0C913.9 2025.8 915.6 2033.2 917.5 2037.5C919.4 2041.8 921.8 2045.9 923.8 2046.0C925.7 2046.1 927.5 2043.2 929.0 2038.0C930.5 2032.8 931.5 2023.8 933.0 2015.0C934.5 2006.2 936.3 1995.0 938.0 1985.0C939.7 1975.0 941.6 1961.8 943.0 1955.0C944.4 1948.2 945.5 1946.2 946.5 1944.0C947.5 1941.8 948.0 1941.8 948.8 1942.0C949.5 1942.2 950.0 1941.2 951.0 1945.0C952.0 1948.8 953.3 1956.7 954.6 1965.0C955.9 1973.3 957.1 1977.5 958.6 1995.0C960.1 2012.5 962.0 2045.8 963.4 2070.0C964.8 2094.2 965.9 2122.1 967.0 2140.0C968.1 2157.9 969.0 2162.9 970.2 2177.5C971.4 2192.1 972.9 2211.2 974.3 2227.5C975.7 2243.8 977.3 2260.4 978.8 2275.0C980.2 2289.6 981.3 2302.9 983.0 2315.0C984.7 2327.1 986.5 2338.3 988.8 2347.5C991.0 2356.7 993.5 2364.5 996.2 2370.0C999.0 2375.5 1002.1 2379.9 1005.0 2380.5C1007.9 2381.1 1010.8 2377.2 1013.8 2373.8C1016.7 2370.3 1019.6 2365.6 1022.5 2360.0C1025.4 2354.4 1028.5 2347.1 1031.2 2340.0C1034.0 2332.9 1036.5 2324.2 1038.8 2317.5C1041.0 2310.8 1043.1 2304.2 1045.0 2300.0C1046.9 2295.8 1048.7 2294.0 1050.0 2292.5C1051.3 2291.0 1052.0 2291.2 1053.0 2291.2C1054.0 2291.3 1054.9 2290.7 1056.2 2293.0C1057.6 2295.3 1059.4 2298.8 1061.2 2305.0C1063.1 2311.2 1065.2 2320.0 1067.5 2330.0C1069.8 2340.0 1072.5 2353.7 1075.0 2365.0C1077.5 2376.3 1080.4 2389.7 1082.5 2398.0C1084.6 2406.3 1085.8 2409.7 1087.5 2415.0C1089.2 2420.3 1090.8 2425.6 1092.5 2430.0C1094.2 2434.4 1095.4 2438.3 1097.5 2441.2C1099.6 2444.2 1102.3 2445.0 1105.0 2447.5C1107.7 2450.0 1110.8 2453.7 1113.8 2456.2C1116.7 2458.8 1119.4 2461.6 1122.5 2463.0C1125.6 2464.4 1129.6 2463.7 1132.5 2464.5C1135.4 2465.3 1136.7 2467.2 1140.0 2468.0C1143.3 2468.8 1148.8 2469.0 1152.5 2469.5C1156.2 2470.0 1159.2 2470.1 1162.5 2471.2C1165.8 2472.4 1167.9 2475.4 1172.5 2476.2C1177.1 2477.1 1183.8 2476.2 1190.0 2476.2C1196.2 2476.3 1202.9 2477.0 1210.0 2476.8C1217.1 2476.5 1227.5 2475.8 1232.5 2474.5C1237.5 2473.2 1237.1 2470.1 1240.0 2468.8C1242.9 2467.4 1246.7 2467.9 1250.0 2466.2C1253.3 2464.6 1257.1 2460.7 1260.0 2458.8C1262.9 2456.8 1265.0 2455.6 1267.5 2454.5C1270.0 2453.4 1272.5 2454.4 1275.0 2452.0C1277.5 2449.6 1280.0 2443.0 1282.5 2440.0C1285.0 2437.0 1287.5 2435.8 1290.0 2433.8C1292.5 2431.7 1295.0 2430.4 1297.5 2427.5C1300.0 2424.6 1302.5 2419.8 1305.0 2416.2C1307.5 2412.7 1310.0 2409.4 1312.5 2406.2C1315.0 2403.1 1317.7 2399.7 1320.0 2397.5C1322.3 2395.3 1324.4 2393.9 1326.2 2393.0C1328.1 2392.1 1329.4 2391.8 1331.2 2392.0C1333.1 2392.2 1335.6 2393.0 1337.5 2394.5C1339.4 2396.0 1340.8 2398.2 1342.5 2401.2C1344.2 2404.2 1345.6 2407.7 1347.5 2412.5C1349.4 2417.3 1351.7 2424.0 1353.8 2430.0C1355.8 2436.0 1357.9 2443.3 1360.0 2448.8C1362.1 2454.2 1364.0 2458.3 1366.2 2462.5C1368.5 2466.7 1371.0 2470.4 1373.8 2473.8C1376.5 2477.1 1379.4 2480.2 1382.5 2482.5C1385.6 2484.8 1388.8 2485.5 1392.5 2487.5C1396.2 2489.5 1400.8 2492.8 1405.0 2494.2C1409.2 2495.7 1413.3 2495.3 1417.5 2496.2C1421.7 2497.2 1425.8 2499.6 1430.0 2500.0C1434.2 2500.4 1438.3 2498.4 1442.5 2498.8C1446.7 2499.1 1450.0 2501.3 1455.0 2502.0C1460.0 2502.7 1466.7 2502.8 1472.5 2503.0C1478.3 2503.2 1483.8 2502.7 1490.0 2503.0C1496.2 2503.3 1504.1 2504.6 1510.0 2505.0C1515.9 2505.4 1520.0 2505.7 1525.5 2505.5C1531.0 2505.3 1535.9 2503.6 1543.0 2504.0C1550.1 2504.4 1560.1 2507.8 1568.0 2508.0C1575.9 2508.2 1582.2 2505.6 1590.5 2505.5C1598.8 2505.4 1609.2 2506.6 1618.0 2507.5C1626.8 2508.4 1635.5 2510.1 1643.0 2511.0C1650.5 2511.9 1656.3 2513.1 1663.0 2513.0C1669.7 2512.9 1677.2 2510.5 1683.0 2510.5C1688.8 2510.5 1689.7 2512.6 1698.0 2513.0C1706.3 2513.4 1724.7 2513.3 1733.0 2513.0C1741.3 2512.7 1741.3 2511.1 1748.0 2511.0C1754.7 2510.9 1764.7 2512.3 1773.0 2512.5C1781.3 2512.7 1791.3 2511.4 1798.0 2512.0C1804.7 2512.6 1810.5 2515.3 1813.0 2516.0" fill="none" stroke="#f00" stroke-width="7.5" stroke-linejoin="round"/>
<path d="M133.0 2350.0C135.5 2349.3 143.0 2347.0 148.0 2346.0C153.0 2345.0 158.0 2344.1 163.0 2344.0C168.0 2343.9 172.2 2345.6 178.0 2345.5C183.8 2345.4 191.3 2344.2 198.0 2343.5C204.7 2342.8 211.3 2342.3 218.0 2341.5C224.7 2340.7 230.9 2339.2 238.0 2338.5C245.1 2337.8 253.8 2337.9 260.5 2337.0C267.2 2336.1 271.8 2334.3 278.0 2333.0C284.2 2331.7 291.8 2330.8 298.0 2329.0C304.2 2327.2 310.5 2324.8 315.5 2322.5C320.5 2320.2 324.2 2316.2 328.0 2315.0C331.8 2313.8 334.2 2316.2 338.0 2315.0C341.8 2313.8 346.3 2309.8 350.5 2307.5C354.7 2305.2 359.2 2303.7 363.0 2301.0C366.8 2298.3 369.7 2293.5 373.0 2291.5C376.3 2289.5 378.8 2289.0 383.0 2289.0C387.2 2289.0 393.0 2290.1 398.0 2291.5C403.0 2292.9 408.4 2295.7 413.0 2297.5C417.6 2299.3 421.8 2300.9 425.5 2302.5C429.2 2304.1 431.8 2305.8 435.5 2307.0C439.2 2308.2 442.6 2309.0 448.0 2309.5C453.4 2310.0 461.9 2309.1 468.0 2310.0C474.1 2310.9 479.5 2315.4 484.5 2315.0C489.5 2314.6 493.2 2308.2 498.0 2307.5C502.8 2306.8 508.0 2310.8 513.0 2310.5C518.0 2310.2 522.2 2306.9 528.0 2306.0C533.8 2305.1 542.2 2305.6 548.0 2305.0C553.8 2304.4 557.2 2303.1 563.0 2302.5C568.8 2301.9 577.2 2301.6 583.0 2301.5C588.8 2301.4 593.0 2302.5 598.0 2302.0C603.0 2301.5 607.2 2299.5 613.0 2298.5C618.8 2297.5 625.5 2297.0 633.0 2296.0C640.5 2295.0 650.5 2293.2 658.0 2292.5C665.5 2291.8 669.7 2291.7 678.0 2291.5C686.3 2291.3 700.9 2292.1 708.0 2291.5C715.1 2290.9 716.3 2288.4 720.5 2288.0C724.7 2287.6 728.4 2289.3 733.0 2289.0C737.6 2288.7 743.8 2286.4 748.0 2286.0C752.2 2285.6 754.7 2286.8 758.0 2286.5C761.3 2286.2 764.3 2284.8 768.0 2284.5C771.7 2284.2 775.9 2284.4 780.0 2284.5C784.1 2284.6 788.3 2286.2 792.5 2285.0C796.7 2283.8 800.4 2278.2 805.0 2277.0C809.6 2275.8 815.7 2278.3 820.0 2278.0C824.3 2277.7 826.8 2275.7 831.0 2275.0C835.2 2274.3 840.6 2275.6 845.0 2273.8C849.4 2271.9 853.2 2265.5 857.5 2263.8C861.8 2262.0 867.2 2264.5 871.0 2263.0C874.8 2261.5 876.8 2258.8 880.0 2255.0C883.2 2251.2 886.7 2245.8 890.0 2240.0C893.3 2234.2 897.1 2227.1 900.0 2220.0C902.9 2212.9 905.3 2205.8 907.5 2197.5C909.7 2189.2 911.4 2178.8 913.0 2170.0C914.6 2161.2 915.7 2154.2 917.0 2145.0C918.3 2135.8 919.5 2125.8 920.9 2115.0C922.3 2104.2 924.1 2092.5 925.5 2080.0C926.9 2067.5 928.3 2053.3 929.4 2040.0C930.5 2026.7 931.5 2010.8 932.3 2000.0C933.1 1989.2 933.4 1987.5 934.3 1975.0C935.2 1962.5 936.8 1937.9 937.8 1925.0C938.8 1912.1 939.5 1904.2 940.0 1897.5C940.5 1890.8 940.3 1891.2 940.9 1885.0C941.5 1878.8 942.6 1868.3 943.4 1860.0C944.2 1851.7 945.0 1843.3 945.8 1835.0C946.5 1826.7 947.4 1817.3 948.1 1810.0C948.8 1802.7 949.4 1795.4 949.9 1791.0C950.4 1786.6 950.7 1785.4 951.2 1783.5C951.8 1781.6 952.4 1780.0 953.2 1779.8C954.0 1779.5 955.0 1780.1 956.0 1782.0C957.0 1783.9 958.2 1786.3 959.0 1791.0C959.8 1795.7 960.2 1802.7 960.9 1810.0C961.6 1817.3 962.4 1826.7 963.1 1835.0C963.8 1843.3 964.6 1851.7 965.2 1860.0C965.9 1868.3 966.6 1878.3 967.1 1885.0C967.6 1891.7 967.6 1893.3 968.0 1900.0C968.4 1906.7 968.8 1912.5 969.5 1925.0C970.2 1937.5 971.0 1955.8 972.0 1975.0C973.0 1994.2 974.3 2021.7 975.5 2040.0C976.7 2058.3 978.0 2072.5 979.0 2085.0C980.0 2097.5 980.4 2105.0 981.2 2115.0C982.1 2125.0 983.3 2134.6 984.3 2145.0C985.3 2155.4 986.1 2167.9 987.5 2177.5C988.9 2187.1 990.8 2194.6 992.5 2202.5C994.2 2210.4 995.8 2219.2 997.5 2225.0C999.2 2230.8 1000.9 2234.8 1002.5 2237.5C1004.1 2240.2 1005.3 2241.0 1007.0 2241.0C1008.7 2241.0 1010.5 2240.0 1012.5 2237.5C1014.5 2235.0 1016.5 2231.4 1018.8 2226.0C1021.0 2220.6 1024.0 2212.2 1026.2 2205.0C1028.5 2197.8 1030.4 2189.6 1032.5 2182.5C1034.6 2175.4 1037.2 2167.9 1038.8 2162.5C1040.3 2157.1 1040.8 2153.4 1041.9 2150.0C1043.0 2146.6 1044.4 2143.8 1045.5 2142.0C1046.6 2140.2 1047.6 2139.8 1048.5 2139.2C1049.4 2138.6 1050.1 2138.7 1051.0 2138.7C1051.9 2138.7 1052.8 2138.7 1053.8 2139.4C1054.8 2140.1 1055.9 2141.2 1057.0 2143.0C1058.1 2144.8 1059.5 2146.8 1060.6 2150.0C1061.7 2153.2 1062.5 2156.2 1063.8 2162.5C1065.0 2168.8 1066.8 2181.2 1068.1 2187.5C1069.4 2193.8 1070.1 2194.2 1071.5 2200.0C1072.9 2205.8 1074.4 2214.2 1076.2 2222.5C1078.1 2230.8 1080.2 2241.2 1082.5 2250.0C1084.8 2258.8 1087.5 2267.9 1090.0 2275.0C1092.5 2282.1 1094.6 2287.9 1097.5 2292.5C1100.4 2297.1 1103.3 2299.8 1107.5 2302.5C1111.7 2305.2 1117.1 2307.4 1122.5 2308.8C1127.9 2310.1 1134.1 2309.7 1140.0 2310.5C1145.9 2311.3 1153.4 2312.7 1158.0 2313.8C1162.6 2314.8 1163.4 2316.8 1167.5 2317.0C1171.6 2317.2 1177.5 2314.3 1182.5 2315.0C1187.5 2315.7 1192.5 2320.7 1197.5 2321.0C1202.5 2321.3 1207.9 2317.2 1212.5 2317.0C1217.1 2316.8 1220.4 2319.8 1225.0 2319.5C1229.6 2319.2 1235.4 2316.3 1240.0 2315.0C1244.6 2313.7 1248.3 2313.3 1252.5 2311.5C1256.7 2309.7 1260.8 2306.0 1265.0 2304.0C1269.2 2302.0 1273.8 2300.5 1277.5 2299.5C1281.2 2298.5 1283.8 2297.8 1287.5 2298.0C1291.2 2298.2 1296.2 2300.1 1300.0 2301.0C1303.8 2301.9 1306.2 2301.2 1310.0 2303.5C1313.8 2305.8 1318.3 2312.3 1322.5 2315.0C1326.7 2317.7 1330.4 2317.6 1335.0 2319.5C1339.6 2321.4 1345.0 2324.8 1350.0 2326.5C1355.0 2328.2 1359.2 2329.2 1365.0 2330.0C1370.8 2330.8 1379.2 2330.8 1385.0 2331.5C1390.8 2332.2 1394.5 2333.8 1400.0 2334.0C1405.5 2334.2 1411.7 2332.8 1418.0 2333.0C1424.3 2333.2 1429.7 2334.7 1438.0 2335.0C1446.3 2335.3 1459.7 2334.4 1468.0 2335.0C1476.3 2335.6 1481.3 2337.7 1488.0 2338.5C1494.7 2339.3 1501.3 2340.2 1508.0 2340.0C1514.7 2339.8 1521.3 2337.3 1528.0 2337.5C1534.7 2337.7 1539.7 2340.3 1548.0 2341.0C1556.3 2341.7 1567.2 2341.1 1578.0 2341.5C1588.8 2341.9 1604.7 2343.6 1613.0 2343.5C1621.3 2343.4 1622.2 2341.2 1628.0 2341.0C1633.8 2340.8 1640.5 2341.8 1648.0 2342.5C1655.5 2343.2 1664.7 2345.2 1673.0 2345.5C1681.3 2345.8 1689.2 2344.3 1698.0 2344.5C1706.8 2344.7 1718.0 2346.5 1725.5 2346.5C1733.0 2346.5 1737.2 2345.3 1743.0 2344.5C1748.8 2343.7 1753.8 2341.6 1760.5 2341.5C1767.2 2341.4 1774.2 2343.4 1783.0 2344.0C1791.8 2344.6 1808.0 2344.8 1813.0 2345.0" fill="none" stroke="#000" stroke-width="7.5" stroke-linejoin="round"/>
<line x1="952.5" y1="1749.9" x2="952.5" y2="2233.5" stroke="#000" stroke-width="7" stroke-dasharray="10.3 16.45"/>
<line x1="899" y1="1956.25" x2="899" y2="2550.75" stroke="#000" stroke-width="8" stroke-dasharray="10.3 16.45"/>
<line x1="1053" y1="2111.25" x2="1053" y2="2629.5" stroke="#000" stroke-width="8" stroke-dasharray="10.3 16.45"/>
<line x1="1288" y1="2241.25" x2="1288" y2="2405.8" stroke="#000" stroke-width="8" stroke-dasharray="10.3 16.45"/>
<line x1="1336" y1="2318.25" x2="1336" y2="2623.75" stroke="#000" stroke-width="8" stroke-dasharray="10.3 16.45"/>
<text><tspan x="233.8" y="1700.5" font-size="80" textLength="97.2" lengthAdjust="spacingAndGlyphs">(a)</tspan></text>
<text transform="translate(84.0 2407.9) rotate(-90)" font-size="81" textLength="509.7" lengthAdjust="spacingAndGlyphs">Intensity (a.u.)</text>
<text><tspan x="893.7" y="2956.2" font-size="83" class="i" textLength="36.9" lengthAdjust="spacingAndGlyphs">2</tspan><tspan x="931.9" y="2956.7" font-size="83" class="i" textLength="46.8" lengthAdjust="spacingAndGlyphs">θ</tspan><tspan> </tspan><tspan x="994.6" y="2955.8" font-size="77.7" textLength="30.4" lengthAdjust="spacingAndGlyphs">(</tspan><tspan x="1023.6" y="2917.5" font-size="49.5" textLength="26.8" lengthAdjust="spacingAndGlyphs">o</tspan><tspan x="1048.6" y="2955.8" font-size="77.7" textLength="29.8" lengthAdjust="spacingAndGlyphs">)</tspan></text>
<text><tspan x="792.8" y="1776.8" font-size="58.5" textLength="128.5" lengthAdjust="spacingAndGlyphs">(110)</tspan><tspan x="920.2" y="1777.5" font-size="53" textLength="29.0" lengthAdjust="spacingAndGlyphs">α</tspan></text>
<text><tspan x="739.3" y="2014.8" font-size="58.5" textLength="127.7" lengthAdjust="spacingAndGlyphs">(110)</tspan><tspan x="866.3" y="2015.2" font-size="51.6" textLength="28.2" lengthAdjust="spacingAndGlyphs">β</tspan></text>
<text><tspan x="996.1" y="2089.8" font-size="58.5" textLength="128.1" lengthAdjust="spacingAndGlyphs">(020)</tspan><tspan x="1123.2" y="2090.7" font-size="53" textLength="29.3" lengthAdjust="spacingAndGlyphs">α</tspan></text>
<text><tspan x="1212.3" y="2220.7" font-size="58.5" textLength="127.6" lengthAdjust="spacingAndGlyphs">(021)</tspan><tspan x="1338.9" y="2221.5" font-size="53">α</tspan></text>
<text><tspan x="1361.9" y="2396.2" font-size="58.5" textLength="127.3" lengthAdjust="spacingAndGlyphs">(020)</tspan><tspan x="1488.7" y="2396.5" font-size="51.6" textLength="28.8" lengthAdjust="spacingAndGlyphs">β</tspan></text>
<text><tspan x="176.5" y="2316.5" font-size="67" textLength="65.6" lengthAdjust="spacingAndGlyphs">40</tspan><tspan x="240.0" y="2283.9" font-size="38.5" textLength="21.7" lengthAdjust="spacingAndGlyphs">o</tspan><tspan x="261.4" y="2317.5" font-size="70" textLength="52.2" lengthAdjust="spacingAndGlyphs">C</tspan></text>
<text><tspan x="177.8" y="2486.0" font-size="67" textLength="67.9" lengthAdjust="spacingAndGlyphs">30</tspan><tspan x="244.0" y="2452.9" font-size="38.5" textLength="21.4" lengthAdjust="spacingAndGlyphs">o</tspan><tspan x="265.7" y="2486.8" font-size="70" textLength="51.9" lengthAdjust="spacingAndGlyphs">C</tspan></text>
<text><tspan x="175.6" y="2634.8" font-size="67" textLength="66.8" lengthAdjust="spacingAndGlyphs">25</tspan><tspan x="240.0" y="2602.9" font-size="38.5" textLength="21.7" lengthAdjust="spacingAndGlyphs">o</tspan><tspan x="261.9" y="2635.6" font-size="70" textLength="52.5" lengthAdjust="spacingAndGlyphs">C</tspan></text>
</g>
</g>
</svg></body></html>
